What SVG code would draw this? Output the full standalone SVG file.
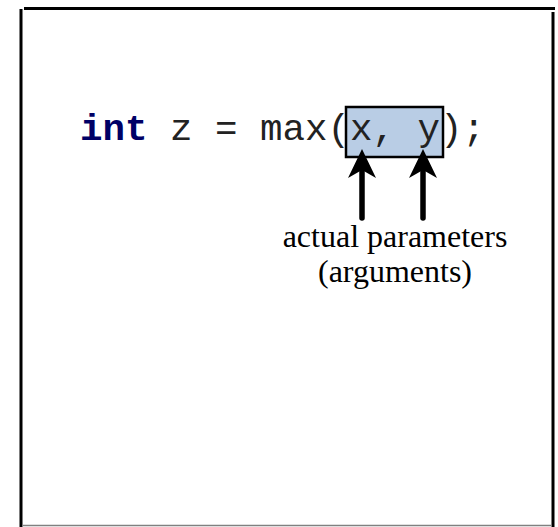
<svg xmlns="http://www.w3.org/2000/svg" width="558" height="527" viewBox="0 0 558 527">
  <style>
    .frame { stroke: #000; stroke-width: 3; fill: none; }
    .code { font-family: "Liberation Mono", "Courier New", monospace; font-size: 37.5px; fill: #222; }
    .kw { font-weight: bold; fill: #000066; }
    .label { font-family: "Liberation Serif", "Times New Roman", serif; font-size: 32px; fill: #000; text-anchor: middle; }
    .shaft { stroke: #000; stroke-width: 5.5; fill: none; stroke-linecap: round; }
    .head { fill: #000; }
  </style>
  <rect width="558" height="527" fill="#fff"/>
  <g id="frame">
    <line class="frame" x1="24" y1="8.5" x2="555" y2="8.5"/>
    <line class="frame" x1="21" y1="9" x2="21" y2="527"/>
    <line class="frame" x1="553" y1="12" x2="553" y2="527"/>
    <line x1="22" y1="525.5" x2="552" y2="525.5" stroke="#808080" stroke-width="1.5"/>
  </g>
  <g id="args-box">
    <rect x="346" y="107" width="97" height="50" fill="#B9CDE5" stroke="#000" stroke-width="2.5"/>
  </g>
  <g id="code">
    <text class="code" x="80" y="140" xml:space="preserve"><tspan class="kw">int</tspan> z = max(x, y);</text>
  </g>
  <g id="connectors">
    <line class="shaft" x1="362" y1="218" x2="362" y2="168"/>
    <polygon class="head" points="362,149 376,178 362,170 348,178"/>
    <line class="shaft" x1="423" y1="218" x2="423" y2="168"/>
    <polygon class="head" points="423,149 437,178 423,170 409,178"/>
  </g>
  <g id="label">
    <text class="label" x="395" y="247">actual parameters</text>
    <text class="label" x="395" y="282">(arguments)</text>
  </g>
</svg>
